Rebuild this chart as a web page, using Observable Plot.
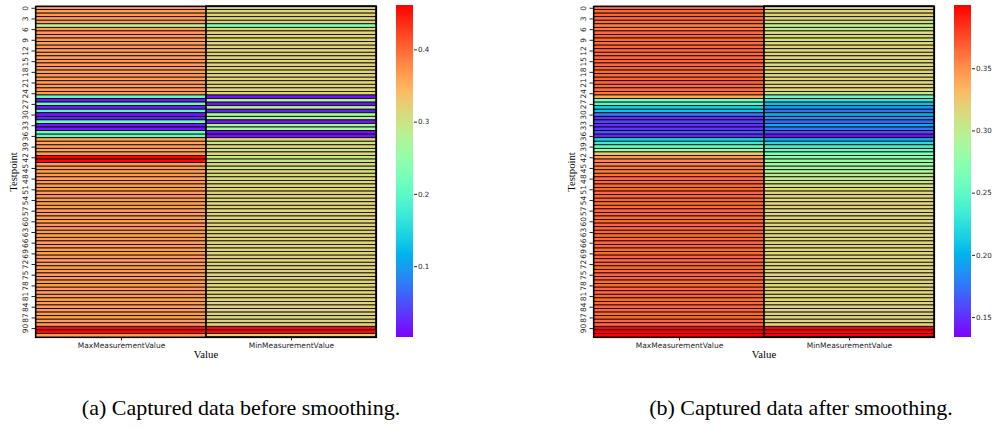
<!DOCTYPE html>
<html><head><meta charset="utf-8">
<script src="https://cdn.jsdelivr.net/npm/d3@7"></script>
<script src="https://cdn.jsdelivr.net/npm/@observablehq/plot@0.6"></script>
<style>
html,body{margin:0;padding:0;background:#fff;}
#root{position:relative;width:992px;height:429px;overflow:hidden;background:#fff;}
#root svg{position:absolute;overflow:visible;}
.cap{position:absolute;font-family:"Liberation Serif","Times New Roman",serif;font-size:22px;white-space:nowrap;transform:translate(-50%,-50%);color:#000;line-height:1;}
</style></head><body><div id="root"></div>
<script>
const columns = ["MaxMeasurementValue", "MinMeasurementValue"];
const testpoints = Array.from({length: 93}, (_, i) => i);
const yTickValues = [0,3,6,9,12,15,18,21,24,27,30,33,36,39,42,45,48,51,54,57,60,63,66,69,72,75,78,81,84,87,90];

const beforeMax = [
0.365,0.362,0.366,0.364,0.365,0.288,0.364,0.366,0.363,0.365,
0.362,0.366,0.364,0.365,0.363,0.366,0.364,0.365,0.362,0.366,
0.364,0.365,0.363,0.366,0.364,0.208,0.015,0.210,0.018,0.195,
0.016,0.020,0.212,0.015,0.018,0.215,0.205,0.364,0.356,0.366,
0.358,0.365,0.458,0.456,0.364,0.366,0.363,0.365,0.362,0.366,
0.364,0.365,0.363,0.366,0.364,0.365,0.362,0.366,0.364,0.365,
0.363,0.366,0.364,0.365,0.362,0.366,0.364,0.365,0.363,0.366,
0.364,0.365,0.362,0.366,0.364,0.365,0.363,0.366,0.364,0.365,
0.362,0.366,0.364,0.365,0.363,0.366,0.364,0.365,0.362,0.366,
0.458,0.457,0.366];
const beforeMin = [
0.318,0.316,0.319,0.315,0.318,0.231,0.317,0.319,0.316,0.318,
0.315,0.319,0.317,0.318,0.316,0.319,0.317,0.318,0.315,0.319,
0.317,0.318,0.316,0.319,0.317,0.012,0.268,0.010,0.270,0.014,
0.266,0.272,0.012,0.268,0.270,0.011,0.013,0.318,0.298,0.318,
0.296,0.316,0.295,0.300,0.318,0.297,0.317,0.305,0.316,0.310,
0.318,0.316,0.319,0.315,0.318,0.317,0.319,0.316,0.318,0.315,
0.319,0.317,0.318,0.316,0.319,0.317,0.318,0.315,0.319,0.317,
0.318,0.316,0.319,0.315,0.318,0.317,0.319,0.316,0.318,0.315,
0.319,0.317,0.318,0.316,0.319,0.317,0.318,0.315,0.319,0.317,
0.458,0.457,0.318];
const afterMax = [
0.366,0.365,0.367,0.364,0.363,0.357,0.358,0.364,0.366,0.365,
0.364,0.366,0.365,0.364,0.366,0.365,0.364,0.366,0.365,0.364,
0.366,0.365,0.364,0.363,0.360,0.340,0.265,0.245,0.215,0.208,
0.175,0.148,0.156,0.150,0.152,0.162,0.145,0.214,0.232,0.252,
0.278,0.325,0.345,0.352,0.355,0.357,0.359,0.361,0.363,0.364,
0.365,0.366,0.364,0.365,0.366,0.365,0.364,0.366,0.365,0.364,
0.366,0.365,0.364,0.366,0.365,0.364,0.366,0.365,0.364,0.366,
0.365,0.364,0.366,0.365,0.364,0.366,0.365,0.364,0.366,0.365,
0.364,0.366,0.365,0.364,0.366,0.365,0.364,0.366,0.365,0.364,
0.400,0.400,0.400];
const afterMin = [
0.318,0.316,0.318,0.315,0.310,0.300,0.302,0.312,0.317,0.310,
0.316,0.318,0.315,0.317,0.318,0.316,0.314,0.318,0.317,0.315,
0.318,0.316,0.317,0.315,0.310,0.255,0.228,0.205,0.188,0.172,
0.200,0.185,0.168,0.196,0.175,0.160,0.136,0.195,0.222,0.238,
0.252,0.265,0.272,0.278,0.283,0.287,0.292,0.297,0.302,0.306,
0.310,0.314,0.316,0.318,0.315,0.317,0.318,0.316,0.315,0.318,
0.317,0.315,0.318,0.316,0.317,0.315,0.318,0.316,0.317,0.318,
0.315,0.317,0.316,0.318,0.315,0.317,0.318,0.316,0.315,0.318,
0.317,0.315,0.318,0.316,0.317,0.315,0.318,0.316,0.317,0.315,
0.400,0.400,0.400];

const beforeDomain = [0.002, 0.46];
const afterDomain = [0.134, 0.40];
const beforeTicks = [0.1, 0.2, 0.3, 0.4];
const afterTicks = [0.15, 0.20, 0.25, 0.30, 0.35];

// matplotlib "rainbow" colormap
function mplRainbow(t) {
  t = Math.max(0, Math.min(1, t));
  const r = Math.min(1, Math.abs(2 * t - 0.5));
  const g = Math.max(0, Math.min(1, Math.sin(Math.PI * t)));
  const b = Math.max(0, Math.min(1, Math.cos(Math.PI * t / 2)));
  return `rgb(${Math.round(r * 255)},${Math.round(g * 255)},${Math.round(b * 255)})`;
}

const baseStyle = {fontFamily: "'DejaVu Sans', sans-serif", fontSize: "7.5px", color: "#262626", background: "transparent", overflow: "visible"};

function heatmap(maxVals, minVals, domain) {
  const data = testpoints.flatMap(i => [
    {col: columns[0], row: i, value: maxVals[i]},
    {col: columns[1], row: i, value: minVals[i]}
  ]);
  return Plot.plot({
    width: 380, height: 370,
    marginLeft: 35, marginRight: 4, marginTop: 6, marginBottom: 33,
    style: baseStyle,
    x: {domain: columns, padding: 0, label: null},
    y: {domain: testpoints, padding: 0, label: null},
    color: {type: "linear", domain, interpolate: mplRainbow, clamp: true},
    marks: [
      Plot.cell(data, {x: "col", y: "row", fill: "value", stroke: "black", strokeWidth: 0.8}),
      Plot.cell([columns[1]], {x: d => d, fill: "none", stroke: "black", strokeWidth: 1.4}),
      Plot.frame({stroke: "black", strokeWidth: 1.2}),
      Plot.axisX({tickSize: 3.5, tickPadding: 2, label: null, fontSize: 7.5}),
      Plot.axisY({ticks: yTickValues, tickSize: 3.5, tickFormat: () => "", label: null}),
      Plot.text(yTickValues, {y: d => d, text: d => String(d), frameAnchor: "left", dx: -9.5, rotate: -90, textAnchor: "middle", lineAnchor: "middle", fontSize: 7.5, fill: "#262626"}),
      Plot.text(["Value"], {text: d => d, frameAnchor: "bottom", dy: 20, fontFamily: "'Liberation Serif', serif", fontSize: 10.7, fill: "black"}),
      Plot.text(["Testpoint"], {text: d => d, frameAnchor: "left", dx: -21.5, rotate: -90, textAnchor: "middle", fontFamily: "'Liberation Serif', serif", fontSize: 10.7, fill: "black"})
    ]
  });
}

function colorbar(domain, ticks, fmt) {
  const n = 300;
  const step = (domain[1] - domain[0]) / n;
  const stops = Array.from({length: n}, (_, i) => domain[0] + step * i);
  return Plot.plot({
    width: 70, height: 370,
    marginLeft: 6, marginRight: 47, marginTop: 6, marginBottom: 33,
    style: baseStyle,
    x: {domain: [0, 1], axis: null},
    y: {domain, label: null, axis: null},
    color: {type: "linear", domain, interpolate: mplRainbow, clamp: true},
    marks: [
      Plot.rect(stops, {x1: 0, x2: 1, y1: d => d, y2: d => d + step * 1.5, fill: d => d, shapeRendering: "crispEdges"}),
      Plot.axisY({anchor: "right", ticks, tickSize: 3, tickPadding: 1.5, tickFormat: fmt, label: null, fontSize: 7.1})
    ]
  });
}

const root = document.getElementById("root");
function place(el, left, top) {
  el.style.position = "absolute";
  el.style.left = left + "px";
  el.style.top = top + "px";
  root.appendChild(el);
}
place(heatmap(beforeMax, beforeMin, beforeDomain), 0, 0);
place(colorbar(beforeDomain, beforeTicks, d3.format(".1f")), 390, 0);
place(heatmap(afterMax, afterMin, afterDomain), 558, 0);
place(colorbar(afterDomain, afterTicks, d3.format(".2f")), 948, 0);

function caption(text, cx, cy) {
  const d = document.createElement("div");
  d.className = "cap";
  d.textContent = text;
  d.style.left = cx + "px";
  d.style.top = cy + "px";
  root.appendChild(d);
}
caption("(a) Captured data before smoothing.", 241, 408);
caption("(b) Captured data after smoothing.", 801, 408);
</script></body></html>
